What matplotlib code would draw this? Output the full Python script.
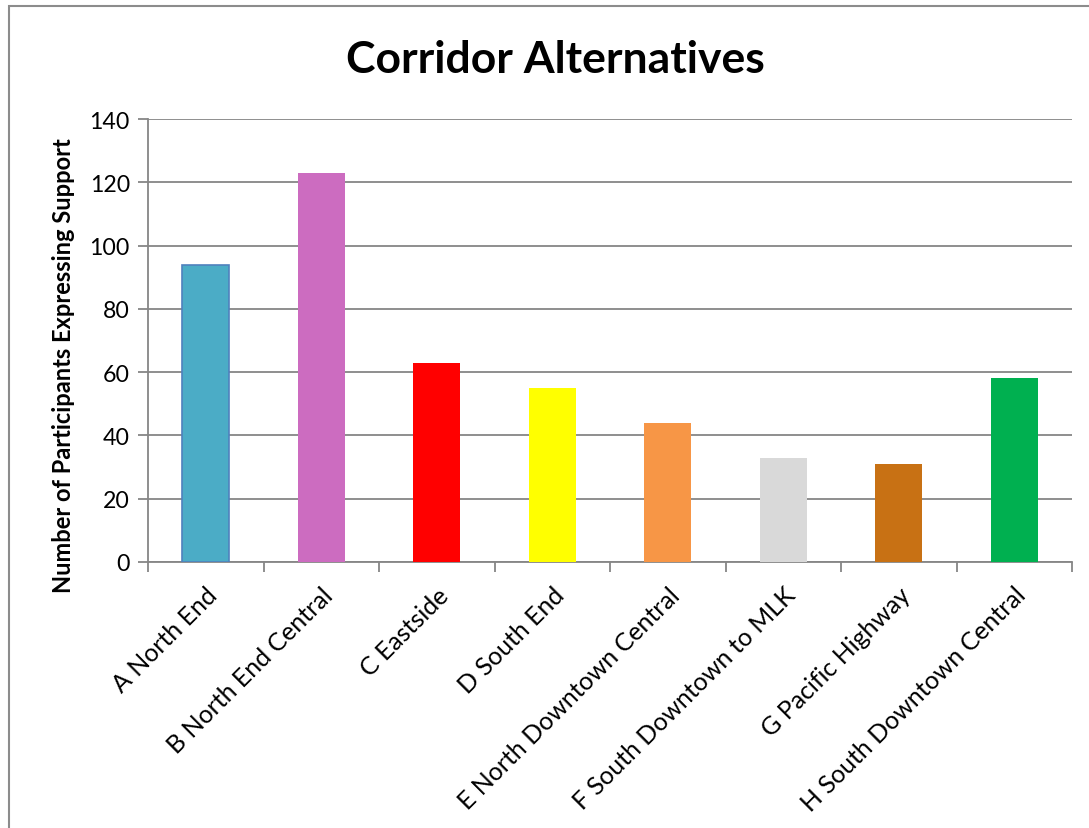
import matplotlib.pyplot as plt
from matplotlib.patches import Rectangle

categories = ["A North End", "B North End Central", "C Eastside", "D South End",
              "E North Downtown Central", "F South Downtown to MLK",
              "G Pacific Highway", "H South Downtown Central"]
values = [94, 123, 63, 55, 44, 33, 31, 58]
colors = ["#4BACC6", "#CC6CC0", "#FF0000", "#FFFF00",
          "#F79646", "#D9D9D9", "#C87114", "#00B050"]

plt.rcParams['font.family'] = ['Lato', 'DejaVu Sans']

fig = plt.figure(figsize=(10.89, 8.29), dpi=100)
ax = fig.add_axes([148 / 1089, 1 - 563 / 829, (1072 - 148) / 1089, (563 - 120) / 829])

# grauer Rahmen um das Diagramm (rechts/unten abgeschnitten)
fig.patches.append(Rectangle((9 / 1089, -0.05), 1.1, 1 - 7 / 829 + 0.05,
                             transform=fig.transFigure, fill=False,
                             edgecolor="#8c8c8c", linewidth=1.5))

x = range(len(categories))
bars = ax.bar(x, values, width=0.41, color=colors, zorder=3)
bars[0].set_edgecolor("#4F81BD")
bars[0].set_linewidth(1.2)

ax.set_xlim(-0.5, len(categories) - 0.5)
ax.set_ylim(0, 140)
ax.set_yticks(range(0, 141, 20))
ax.yaxis.grid(True, color="#868686", linewidth=1.3, zorder=0)
ax.set_axisbelow(True)

ax.set_xticks([i + 0.5 for i in range(-1, len(categories))], minor=False)
ax.set_xticklabels([])
ax.set_xticks(list(x), minor=True)
ax.set_xticklabels(categories, minor=True, rotation=45, ha="right", va="top",
                   rotation_mode="anchor", fontsize=18)
ax.tick_params(axis="x", which="minor", length=0, pad=15)
ax.tick_params(axis="x", which="major", length=7, color="#868686", width=1.3)
ax.tick_params(axis="y", length=7, color="#868686", width=1.3, labelsize=16.7, pad=6)

for s in ["top", "right"]:
    ax.spines[s].set_visible(False)
for s in ["left", "bottom"]:
    ax.spines[s].set_color("#868686")
    ax.spines[s].set_linewidth(1.3)

ax.set_ylabel("Number of Participants Expressing Support", fontsize=17,
              fontweight="bold")
ax.yaxis.set_label_coords(-0.079, 0.445)
fig.text(555 / 1089, 1 - 60 / 829, "Corridor Alternatives", ha="center",
         va="center", fontsize=32, fontweight="bold")

fig.savefig("out.png", dpi=100)
